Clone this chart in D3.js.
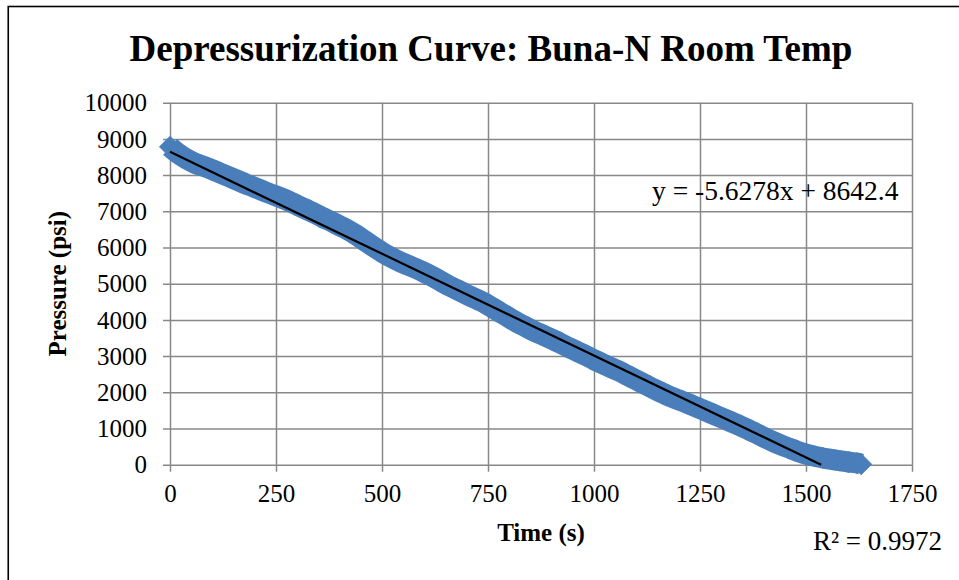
<!DOCTYPE html>
<html>
<head>
<meta charset="utf-8">
<script src="https://cdn.jsdelivr.net/npm/d3@7"></script>
<style>
  body { margin: 0; background: white; }
  svg { display: block; font-family: "Liberation Serif", "Times New Roman", serif; }
  .grid line { stroke: #888888; stroke-width: 1.5; }
  .tick text { font-size: 25px; fill: black; font-family: "Liberation Serif", "Times New Roman", serif; }
</style>
</head>
<body>
<svg id="chart" width="959" height="580"></svg>
<script>
// readings: time (s) and pressure (psi)
const timeValues = [
  0, 20, 40, 60, 80, 100, 120, 140, 160, 180,
  200, 220, 240, 260, 280, 300, 320, 340, 360, 380,
  400, 420, 440, 460, 480, 500, 520, 540, 560, 580,
  600, 620, 640, 660, 680, 700, 720, 740, 760, 780,
  800, 820, 840, 860, 880, 900, 920, 940, 960, 980,
  1000, 1020, 1040, 1060, 1080, 1100, 1120, 1140, 1160, 1180,
  1200, 1220, 1240, 1260, 1280, 1300, 1320, 1340, 1360, 1380,
  1400, 1420, 1440, 1460, 1480, 1500, 1520, 1540, 1560, 1580,
  1600, 1620, 1630
];
const pressureValues = [
  8780, 8590, 8440, 8320, 8240, 8150, 8050, 7950, 7850, 7750,
  7660, 7560, 7470, 7380, 7280, 7170, 7060, 6950, 6830, 6720,
  6600, 6480, 6340, 6180, 6020, 5870, 5740, 5620, 5520, 5420,
  5310, 5190, 5060, 4930, 4820, 4700, 4590, 4480, 4340, 4200,
  4060, 3920, 3800, 3680, 3580, 3470, 3360, 3240, 3130, 3020,
  2900, 2790, 2680, 2580, 2460, 2340, 2220, 2100, 1990, 1880,
  1790, 1700, 1600, 1500, 1400, 1300, 1200, 1100, 990, 880,
  760, 650, 550, 460, 370, 290, 235, 185, 145, 110,
  75, 45, 15
];

const xTicks = [0, 250, 500, 750, 1000, 1250, 1500, 1750];
const yTicks = [0, 1000, 2000, 3000, 4000, 5000, 6000, 7000, 8000, 9000, 10000];

// linear trendline as printed on the chart
const slope = -5.6278;
const intercept = 8642.4;
const rSquared = "0.9972";

const titleText = "Depressurization Curve: Buna-N Room Temp";
const xTitle = "Time (s)";
const yTitle = "Pressure (psi)";

const svg = d3.select("#chart");

// outer chart border
svg.append("rect")
    .attr("x", 8.25).attr("y", 6.5)
    .attr("width", 980).attr("height", 600)
    .attr("fill", "none")
    .attr("stroke", "black")
    .attr("stroke-width", 1.6);

const plot = { left: 170, right: 912, top: 102.7, bottom: 464.7 };

const x = d3.scaleLinear().domain([0, 1750]).range([plot.left, plot.right]);
const y = d3.scaleLinear().domain([0, 10000]).range([plot.bottom, plot.top]);

// horizontal gridlines + y axis labels
const yAxis = svg.append("g")
    .attr("class", "grid")
    .attr("transform", `translate(${plot.left},0)`)
    .call(d3.axisLeft(y).tickValues(yTicks).tickFormat(d3.format("d"))
        .tickSize(-(plot.right - plot.left)).tickPadding(0));
yAxis.select(".domain").remove();
yAxis.selectAll(".tick line").attr("x1", -7);
yAxis.selectAll(".tick text").attr("x", -23).attr("dy", "0.33em");

// vertical gridlines + x axis labels
const xAxis = svg.append("g")
    .attr("class", "grid")
    .attr("transform", `translate(0,${plot.bottom})`)
    .call(d3.axisBottom(x).tickValues(xTicks).tickFormat(d3.format("d"))
        .tickSize(-(plot.bottom - plot.top)).tickPadding(0));
xAxis.select(".domain").remove();
xAxis.selectAll(".tick line").attr("y1", 7);
xAxis.selectAll(".tick text").attr("y", 37).attr("dy", 0);

// data markers (diamonds); so many overlap that they read as one thick band
const markerColor = "#4a7ebb";
const h = 10.5;
const diamond = `M0,${-h}L${h},0L0,${h}L${-h},0Z`;
const points = timeValues.map((t, i) => ({ t: t, p: pressureValues[i] }));

const band = d3.line().x(d => x(d.t)).y(d => y(d.p)).curve(d3.curveMonotoneX);
svg.append("path")
    .datum(points)
    .attr("d", band)
    .attr("fill", "none")
    .attr("stroke", markerColor)
    .attr("stroke-width", 21)
    .attr("stroke-linejoin", "round");

svg.append("g")
    .selectAll("path")
    .data(points)
    .join("path")
    .attr("d", diamond)
    .attr("transform", d => `translate(${x(d.t)},${y(d.p)})`)
    .attr("fill", markerColor)
    .attr("stroke", markerColor)
    .attr("stroke-width", 1);

// trendline, clipped at the x axis like the original
const tEnd = Math.min(d3.max(timeValues), -intercept / slope);
svg.append("line")
    .attr("x1", x(0)).attr("y1", y(intercept))
    .attr("x2", x(tEnd)).attr("y2", y(intercept + slope * tEnd))
    .attr("stroke", "black")
    .attr("stroke-width", 2.2);

// texts
svg.append("text")
    .attr("x", 491).attr("y", 61)
    .attr("text-anchor", "middle")
    .attr("font-size", 37).attr("font-weight", "bold")
    .text(titleText);

svg.append("text")
    .attr("x", (plot.left + plot.right) / 2).attr("y", 541)
    .attr("text-anchor", "middle")
    .attr("font-size", 25).attr("font-weight", "bold")
    .text(xTitle);

svg.append("text")
    .attr("transform", `translate(66,${(plot.top + plot.bottom) / 2}) rotate(-90)`)
    .attr("text-anchor", "middle")
    .attr("font-size", 25).attr("font-weight", "bold")
    .text(yTitle);

svg.append("text")
    .attr("x", 652).attr("y", 200)
    .attr("font-size", 27.5)
    .text(`y = ${slope}x + ${intercept}`);

svg.append("text")
    .attr("x", 813).attr("y", 550)
    .attr("font-size", 27)
    .text(`R² = ${rSquared}`);
</script>
</body>
</html>
